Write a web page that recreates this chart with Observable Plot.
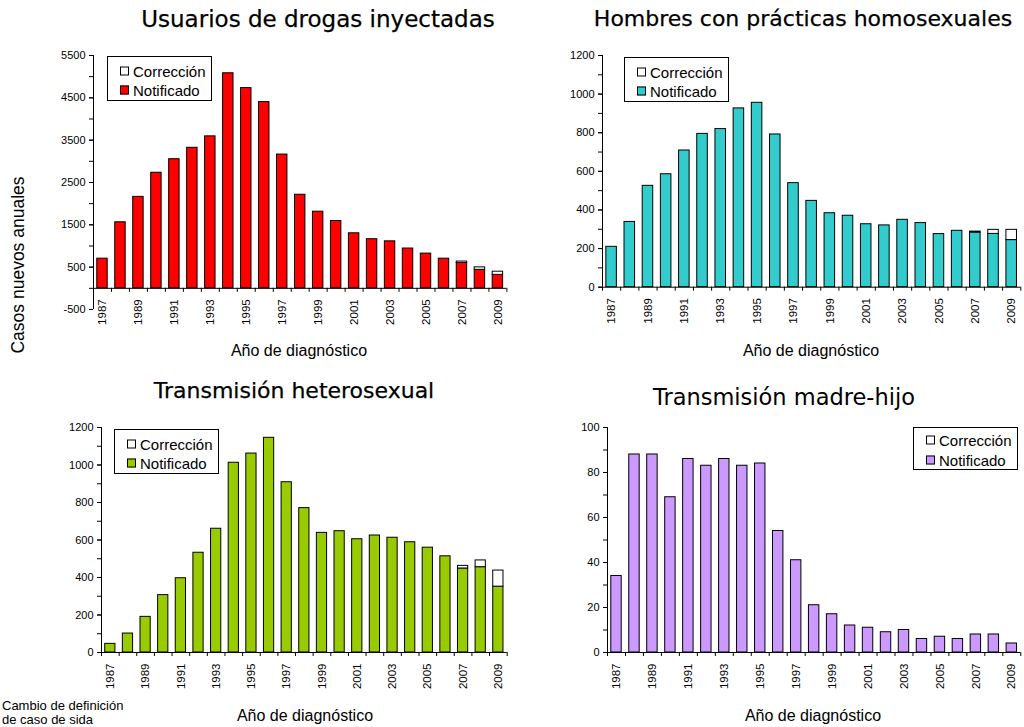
<!DOCTYPE html>
<html><head><meta charset="utf-8">
<script src="https://cdn.jsdelivr.net/npm/d3@7"></script>
<script src="https://cdn.jsdelivr.net/npm/@observablehq/plot@0.6"></script>
<style>
body{margin:0;background:#fff}
#root{position:relative;width:1024px;height:727px;overflow:hidden;font-family:'Liberation Sans',Arial,sans-serif;color:#000}
.abs{position:absolute;white-space:nowrap}
.title{font-family:'DejaVu Sans',Verdana,sans-serif;font-size:22px;transform:translateX(-50%)}
.bold{-webkit-text-stroke:0.25px #000}
.xlab{font-size:16px;transform:translate(-50%,-50%)}
.leg{border:1px solid #000;background:#fff;box-sizing:border-box;font-size:15px}
.leg .row{position:absolute;left:12px;display:flex;align-items:center;transform:translateY(-50%)}
.leg .sq{width:9px;height:9px;border:1px solid #000;box-sizing:border-box;margin-right:4px}
</style></head>
<body><div id="root"></div>
<script>
const years = [1987,1988,1989,1990,1991,1992,1993,1994,1995,1996,1997,1998,1999,2000,2001,2002,2003,2004,2005,2006,2007,2008,2009];
const yearLabels = [1987,1989,1991,1993,1995,1997,1999,2001,2003,2005,2007,2009];

// Usuarios de drogas inyectadas
const udiNotificado = [700,1560,2160,2730,3050,3320,3590,5080,4730,4400,3160,2210,1810,1590,1300,1160,1110,940,820,700,598,437,318];
const udiCorreccion = [0,0,0,0,0,0,0,0,0,0,0,0,0,0,0,0,0,0,0,0,34,58,75];
// Hombres con prácticas homosexuales
const hshNotificado = [209,338,525,585,708,794,819,926,955,791,539,447,383,370,326,320,349,332,275,292,283,276,244];
const hshCorreccion = [0,0,0,0,0,0,0,0,0,0,0,0,0,0,0,0,0,0,0,0,5,21,53];
// Transmisión heterosexual
const hetNotificado = [46,101,190,306,396,532,660,1012,1061,1145,908,770,638,647,604,624,612,588,559,513,448,455,351];
const hetCorreccion = [0,0,0,0,0,0,0,0,0,0,0,0,0,0,0,0,0,0,0,0,14,36,86];
// Transmisión madre-hijo
const mhNotificado = [34,88,88,69,86,83,86,83,84,54,41,21,17,12,11,9,10,6,7,6,8,8,4];
const mhCorreccion = [0,0,0,0,0,0,0,0,0,0,0,0,0,0,0,0,0,0,0,0,0,0,0];

const udiTicks = [-500,500,1500,2500,3500,4500,5500];
const udiMinor = [-500,0,500,1000,1500,2000,2500,3000,3500,4000,4500,5000,5500];
const hTicks = [0,200,400,600,800,1000,1200];
const hMinor = [0,100,200,300,400,500,600,700,800,900,1000,1100,1200];
const mhTicks = [0,20,40,60,80,100];
const mhMinor = [0,10,20,30,40,50,60,70,80,90,100];

const colors = {udi:"#ff0000", hsh:"#33cccc", het:"#99cc00", mh:"#cc99ff"};
const legendLabels = ["Corrección","Notificado"];
const titles = ["Usuarios de drogas inyectadas","Hombres con prácticas homosexuales","Transmisión heterosexual","Transmisión madre-hijo"];
const xTitle = "Año de diagnóstico";
const yTitle = "Casos nuevos anuales";
const footnote = ["Cambio de definición","de caso de sida"];

const root = document.getElementById("root");

function panel(o){
  const rows = years.map((y,i)=>({year:y, n:o.notif[i], c:o.corr[i]}));
  const mL=60, mT=15, mR=4, mB=45;
  const width = (o.x1-o.x0)+mL+mR, height=(o.yBot-o.yTop)+mT+mB;
  const ppu = (o.yBot-o.yTop)/(o.yDomain[1]-o.yDomain[0]);
  const dyAxis = -(0 - o.yDomain[0])*ppu;
  const first = years[0]-0.5, last = years[years.length-1]+0.5;
  const bounds = [first, ...years.map(y=>y+0.5)];
  const half = 0.29;
  const svg = Plot.plot({
    width, height, marginLeft:mL, marginRight:mR, marginTop:mT, marginBottom:mB,
    x:{type:"linear", domain:[first,last], axis:null},
    y:{domain:o.yDomain, axis:null},
    style:{fontFamily:"'Liberation Sans',Arial,sans-serif", fontSize:"10px", color:"#000", background:"transparent", overflow:"visible"},
    marks:[
      Plot.rectY(rows,{x1:d=>d.year-half, x2:d=>d.year+half, y1:0, y2:"n", fill:o.color, stroke:"#000", strokeWidth:1}),
      Plot.rectY(rows.filter(d=>d.c>0),{x1:d=>d.year-half, x2:d=>d.year+half, y1:"n", y2:d=>d.n+d.c, fill:"#fff", stroke:"#000", strokeWidth:1}),
      Plot.ruleX([first],{y1:o.yDomain[0], y2:o.yDomain[1], stroke:"#000"}),
      Plot.ruleY([0],{x1:first, x2:last, stroke:"#000"}),
      Plot.axisY({ticks:o.minor, tickFormat:()=>"", tickSize:4, label:null}),
      Plot.axisY({ticks:o.ticks, tickFormat:d=>String(d), tickSize:4, tickPadding:4, fontSize:11, label:null}),
      Plot.axisX({ticks:bounds, tickFormat:()=>"", tickSize:4, dy:dyAxis, label:null}),
      Plot.axisX({ticks:yearLabels, tickFormat:d=>String(d), tickSize:0, tickPadding:11, tickRotate:-90, dy:dyAxis, fontSize:11.5, label:null})
    ]
  });
  svg.style.position="absolute";
  svg.style.left=(o.x0-mL)+"px";
  svg.style.top=(o.yTop-mT)+"px";
  root.appendChild(svg);

  // legend
  const lg = document.createElement("div");
  lg.className="abs leg";
  Object.assign(lg.style,{left:o.leg[0]+"px", top:o.leg[1]+"px", width:o.leg[2]+"px", height:o.leg[3]+"px"});
  const fills = ["#fff", o.color];
  legendLabels.forEach((t,i)=>{
    const r=document.createElement("div"); r.className="row";
    r.style.top=o.legRows[i]+"px";
    const sq=document.createElement("div"); sq.className="sq"; sq.style.background=fills[i];
    const tx=document.createElement("span"); tx.textContent=t;
    r.appendChild(sq); r.appendChild(tx); lg.appendChild(r);
  });
  root.appendChild(lg);

  // title
  const ti=document.createElement("div");
  ti.className="abs title"+(o.bold?" bold":"");
  ti.textContent=o.title;
  Object.assign(ti.style,{left:o.titlePos[0]+"px", top:o.titlePos[1]+"px", fontSize:o.titleSize+"px"});
  root.appendChild(ti);

  const xl=document.createElement("div");
  xl.className="abs xlab"; xl.textContent=xTitle;
  Object.assign(xl.style,{left:o.xlabPos[0]+"px", top:o.xlabPos[1]+"px"});
  root.appendChild(xl);
}

panel({notif:udiNotificado, corr:udiCorreccion, color:colors.udi, yDomain:[-500,5500], ticks:udiTicks, minor:udiMinor,
  x0:93.3, x1:506.7, yTop:55, yBot:309, leg:[107,56,105,45], legRows:[14,33], title:titles[0], titlePos:[318,6], titleSize:23, bold:true, xlabPos:[299,351]});
panel({notif:hshNotificado, corr:hshCorreccion, color:colors.hsh, yDomain:[0,1200], ticks:hTicks, minor:hMinor,
  x0:601.7, x1:1020, yTop:55, yBot:286.7, leg:[624,57,105,45], legRows:[14,33], title:titles[1], titlePos:[803,6], titleSize:22, bold:true, xlabPos:[811,351]});
panel({notif:hetNotificado, corr:hetCorreccion, color:colors.het, yDomain:[0,1200], ticks:hTicks, minor:hMinor,
  x0:101, x1:506.7, yTop:427.3, yBot:652.3, leg:[114,429,105,45], legRows:[14,33], title:titles[2], titlePos:[294,378], titleSize:22, bold:true, xlabPos:[305,716]});
panel({notif:mhNotificado, corr:mhCorreccion, color:colors.mh, yDomain:[0,100], ticks:mhTicks, minor:mhMinor,
  x0:606.7, x1:1020, yTop:427.3, yBot:652.3, leg:[913,427,105,43], legRows:[12,32], title:titles[3], titlePos:[784,384], titleSize:22.5, bold:false, xlabPos:[813,716]});

// y title
const yt=document.createElement("div");
yt.className="abs"; yt.textContent=yTitle;
Object.assign(yt.style,{left:"18px", top:"265px", fontSize:"17.5px", transform:"translate(-50%,-50%) rotate(-90deg)"});
root.appendChild(yt);

// footnote
const fn=document.createElement("div");
fn.className="abs";
fn.innerHTML=footnote.join("<br>");
Object.assign(fn.style,{left:"2px", top:"699px", fontSize:"13px", lineHeight:"14px"});
root.appendChild(fn);
</script>
</body></html>
